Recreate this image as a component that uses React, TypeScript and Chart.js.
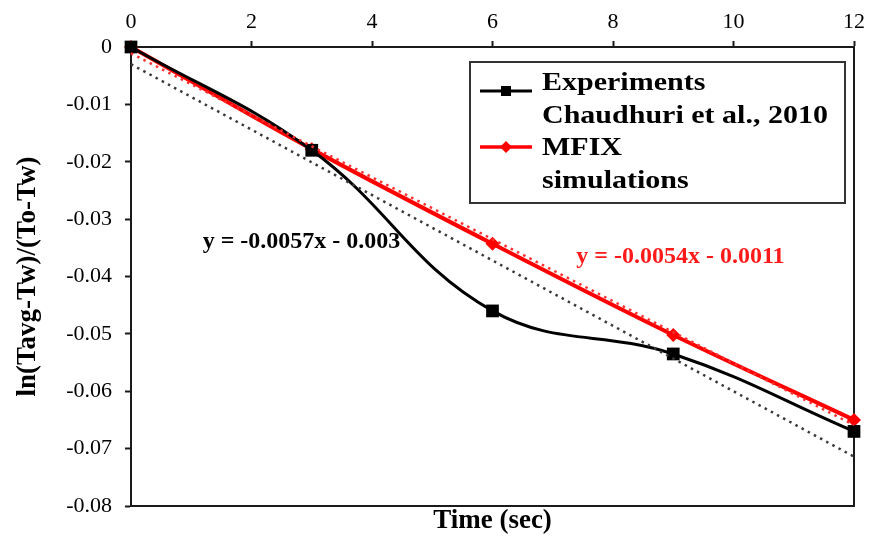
import { useEffect, useRef } from "react";
import { Chart, registerables } from "chart.js";

Chart.register(...registerables);

// Cooling curves: time (s) vs ln((Tavg - Tw)/(To - Tw))
const timeSec = [0, 3, 6, 9, 12];
const experiments = [0, -0.018, -0.046, -0.0535, -0.067];
const mfixSim = [0, -0.0178, -0.0343, -0.0502, -0.065];

// Linear fits shown on the plot
const expFitSlope = -0.0057;
const expFitIntercept = -0.003;
const mfixFitSlope = -0.0054;
const mfixFitIntercept = -0.0011;

const xTicks = [0, 2, 4, 6, 8, 10, 12];
const yTicks = [0, -0.01, -0.02, -0.03, -0.04, -0.05, -0.06, -0.07, -0.08];

const legendRows = [
  ["Experiments", "Chaudhuri et al., 2010"],
  ["MFIX", "simulations"],
];
const expEquation = "y = -0.0057x - 0.003";
const mfixEquation = "y = -0.0054x - 0.0011";

const SERIF = '"Liberation Serif", "Times New Roman", serif';

const fitLine = (slope: number, intercept: number) =>
  [timeSec[0], timeSec[timeSec.length - 1]].map((x) => ({ x, y: slope * x + intercept }));

const framePlugin = {
  id: "frame",
  beforeDatasetsDraw(chart: any) {
    const { ctx, chartArea: a } = chart;
    ctx.save();
    ctx.strokeStyle = "#1a1a1a";
    ctx.lineWidth = 2;
    ctx.beginPath();
    ctx.moveTo(a.left, a.bottom);
    ctx.lineTo(a.right, a.bottom);
    ctx.lineTo(a.right, a.top);
    ctx.stroke();
    ctx.restore();
  },
};

const annotationPlugin = {
  id: "annotations",
  afterDatasetsDraw(chart: any) {
    const { ctx, chartArea: a, scales } = chart;
    const xs = scales.x;
    const ys = scales.y;
    ctx.save();

    // fit equations
    ctx.font = `bold 24px ${SERIF}`;
    ctx.textBaseline = "alphabetic";
    ctx.textAlign = "left";
    ctx.fillStyle = "#000000";
    ctx.fillText(expEquation, xs.getPixelForValue(1.19), ys.getPixelForValue(-0.035));
    ctx.fillStyle = "#ff1a1a";
    ctx.fillText(mfixEquation, xs.getPixelForValue(7.39), ys.getPixelForValue(-0.03765));

    // legend box
    const bx = a.left + 339;
    const by = a.top + 15;
    const bw = 375;
    const bh = 141;
    ctx.fillStyle = "#ffffff";
    ctx.fillRect(bx, by, bw, bh);
    ctx.strokeStyle = "#333333";
    ctx.lineWidth = 2;
    ctx.strokeRect(bx, by, bw, bh);

    // legend samples
    const sampleX0 = bx + 10;
    const sampleX1 = bx + 62;
    const sampleXm = (sampleX0 + sampleX1) / 2;
    ctx.lineWidth = 3;
    ctx.strokeStyle = "#000000";
    ctx.beginPath();
    ctx.moveTo(sampleX0, by + 29);
    ctx.lineTo(sampleX1, by + 29);
    ctx.stroke();
    ctx.fillStyle = "#000000";
    ctx.fillRect(sampleXm - 5, by + 29 - 5, 10, 10);

    ctx.strokeStyle = "#ff0000";
    ctx.lineWidth = 3.5;
    ctx.beginPath();
    ctx.moveTo(sampleX0, by + 85);
    ctx.lineTo(sampleX1, by + 85);
    ctx.stroke();
    ctx.fillStyle = "#ff0000";
    ctx.beginPath();
    ctx.moveTo(sampleXm, by + 85 - 6);
    ctx.lineTo(sampleXm + 6, by + 85);
    ctx.lineTo(sampleXm, by + 85 + 6);
    ctx.lineTo(sampleXm - 6, by + 85);
    ctx.closePath();
    ctx.fill();

    // legend text
    ctx.font = `bold 25px ${SERIF}`;
    ctx.fillStyle = "#000000";
    const baselines = [by + 28, by + 61, by + 93, by + 126];
    const lines = legendRows.flat();
    lines.forEach((t, i) => {
      ctx.save();
      ctx.translate(bx + 72, baselines[i]);
      ctx.scale(1.2, 1);
      ctx.fillText(t, 0, 0);
      ctx.restore();
    });

    ctx.restore();
  },
};

export default function App() {
  const canvasRef = useRef<HTMLCanvasElement | null>(null);

  useEffect(() => {
    const canvas = canvasRef.current;
    if (!canvas) return;

    const tickFont = { family: SERIF, size: 22 };
    const titleFont = { family: SERIF, size: 27, weight: "bold" as const, lineHeight: 1 };

    const chart = new Chart(canvas, {
      type: "line",
      data: {
        datasets: [
          {
            label: "Experiments fit",
            data: fitLine(expFitSlope, expFitIntercept),
            borderColor: "#3a3a3a",
            borderWidth: 2.5,
            borderDash: [2.5, 4.5],
            pointRadius: 0,
            fill: false,
            clip: false,
          },
          {
            label: "MFIX fit",
            data: fitLine(mfixFitSlope, mfixFitIntercept),
            borderColor: "#ff3030",
            borderWidth: 2.5,
            borderDash: [2.5, 4.5],
            pointRadius: 0,
            fill: false,
            clip: false,
          },
          {
            label: "Experiments Chaudhuri et al., 2010",
            data: timeSec.map((x, i) => ({ x, y: experiments[i] })),
            borderColor: "#000000",
            backgroundColor: "#000000",
            borderWidth: 3,
            tension: 0.4,
            pointStyle: "rect",
            pointRadius: 9,
            pointBorderWidth: 0,
            fill: false,
            clip: false,
          },
          {
            label: "MFIX simulations",
            data: timeSec.map((x, i) => ({ x, y: mfixSim[i] })),
            borderColor: "#ff0000",
            backgroundColor: "#ff0000",
            borderWidth: 4,
            tension: 0.3,
            pointStyle: "rectRot",
            pointRadius: 7,
            pointBorderWidth: 0,
            fill: false,
            clip: false,
          },
        ],
      },
      options: {
        animation: false,
        responsive: false,
        layout: { padding: { left: 12, right: 14, top: 0, bottom: 0 } },
        plugins: {
          legend: { display: false },
          tooltip: { enabled: false },
        },
        scales: {
          x: {
            type: "linear",
            position: "top",
            min: 0,
            max: 12,
            afterBuildTicks: (s: any) => {
              s.ticks = xTicks.map((value) => ({ value }));
            },
            afterFit: (s: any) => {
              s.height = 47;
            },
            ticks: { font: tickFont, color: "#000000", padding: 6 },
            grid: {
              display: true,
              drawOnChartArea: false,
              drawTicks: true,
              tickLength: 6,
              tickWidth: 2,
              tickColor: "#1a1a1a",
            },
            border: { display: true, color: "#1a1a1a", width: 2 },
          },
          xBottom: {
            type: "linear",
            position: "bottom",
            min: 0,
            max: 12,
            afterFit: (s: any) => {
              s.height = 30;
            },
            ticks: { display: false },
            grid: { display: false },
            border: { display: false },
            title: {
              display: true,
              text: "Time (sec)",
              font: titleFont,
              color: "#000000",
              padding: { top: 0, bottom: 1 },
            },
          },
          y: {
            type: "linear",
            position: "left",
            min: -0.08,
            max: 0,
            afterBuildTicks: (s: any) => {
              s.ticks = yTicks.map((value) => ({ value }));
            },
            afterFit: (s: any) => {
              s.width = 119;
            },
            ticks: {
              font: tickFont,
              color: "#000000",
              padding: 13,
              callback: (v: any) => (Number(v) === 0 ? "0" : Number(v).toFixed(2)),
            },
            grid: {
              display: true,
              drawOnChartArea: false,
              drawTicks: true,
              tickLength: 6,
              tickWidth: 2,
              tickColor: "#1a1a1a",
            },
            border: { display: true, color: "#1a1a1a", width: 2 },
            title: {
              display: true,
              text: "ln(Tavg-Tw)/(To-Tw)",
              font: titleFont,
              color: "#000000",
              padding: { top: 3, bottom: 0 },
            },
          },
        },
      },
      plugins: [framePlugin, annotationPlugin],
    });

    return () => chart.destroy();
  }, []);

  return (
    <div style={{ position: "absolute", left: 0, top: 0, width: 871, height: 536, background: "#ffffff" }}>
      <canvas ref={canvasRef} width={871} height={536} />
    </div>
  );
}
